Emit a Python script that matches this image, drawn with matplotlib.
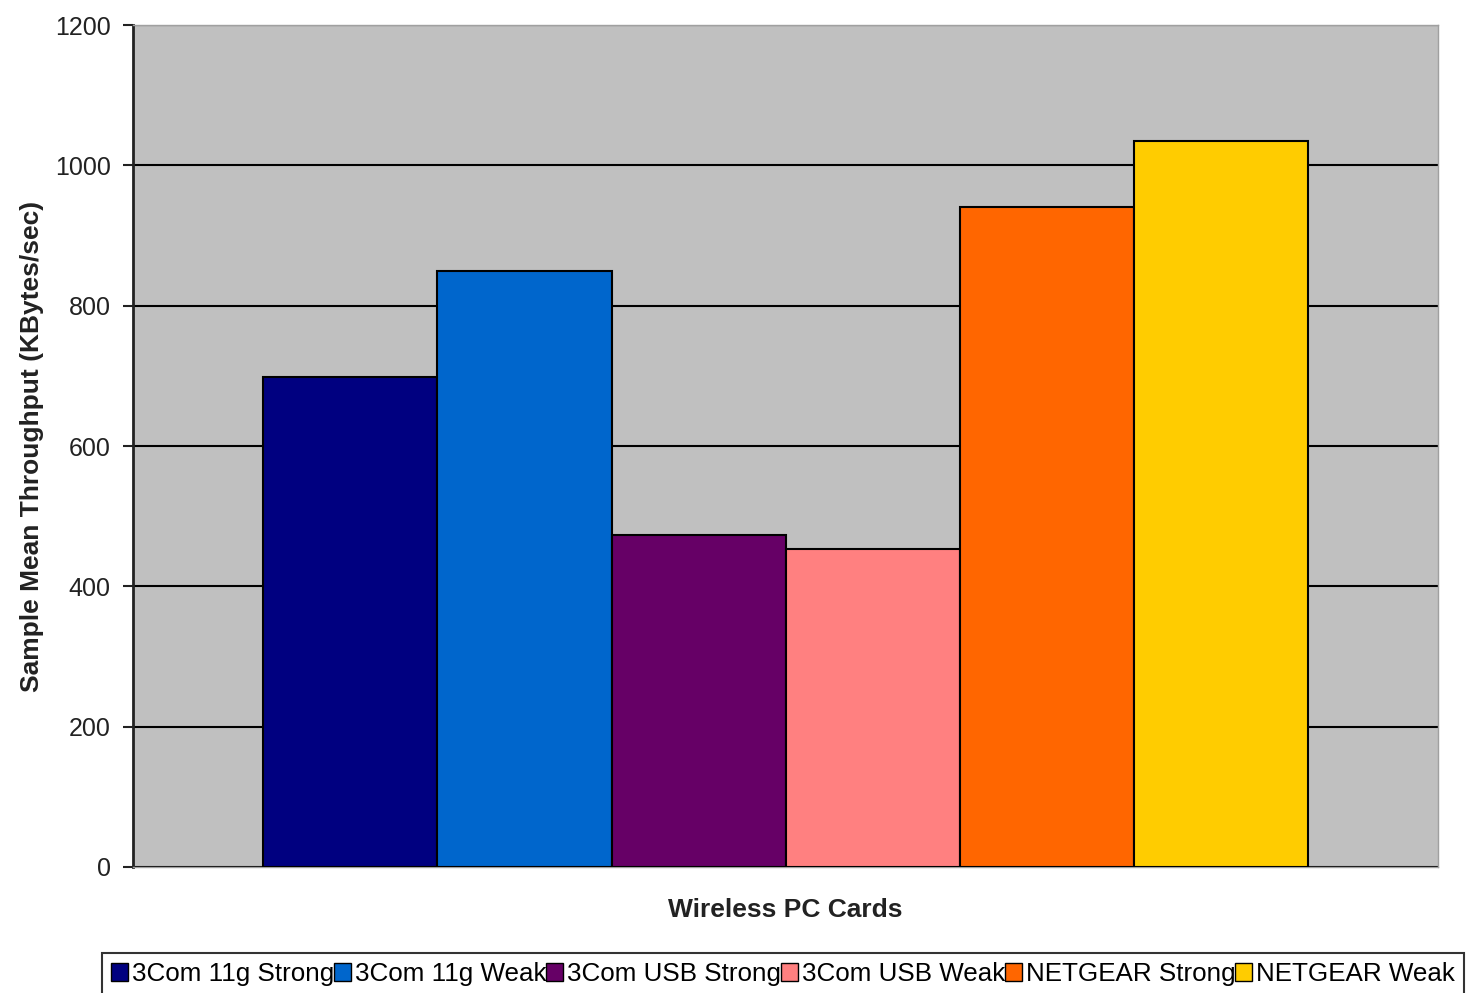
import numpy as np
import matplotlib.pyplot as plt

# data
cards = ['3Com 11g Strong', '3Com 11g Weak', '3Com USB Strong',
         '3Com USB Weak', 'NETGEAR Strong', 'NETGEAR Weak']
throughput = [698, 849, 473, 453, 940, 1035]
colors = ['#000080', '#0066CC', '#660066', '#FF8080', '#FF6600', '#FFCC00']

plt.rcParams['font.family'] = ['Liberation Sans', 'DejaVu Sans']

fig = plt.figure(figsize=(14.69, 9.93), dpi=100)
ax = fig.add_axes([0.0905, 0.1269, 0.8885, 0.8479])
ax.set_facecolor('#C0C0C0')

x = np.arange(len(cards))
for i in range(len(cards)):
    ax.bar(x[i], throughput[i], width=1.0, color=colors[i], edgecolor='black',
           linewidth=1.5, label=cards[i], zorder=3)

ax.set_xlim(-1.25, len(cards) + 0.25)
ax.set_ylim(0, 1200)
ax.set_yticks(np.arange(0, 1201, 200))
ax.set_xticks([])
ax.yaxis.grid(True, color='black', linewidth=1.5, zorder=0)
ax.set_axisbelow(True)
ax.tick_params(axis='y', direction='out', length=7, width=1.5, pad=9,
               labelsize=18, colors='#222222')

ax.spines['left'].set_color('#222222')
ax.spines['left'].set_linewidth(2)
for s in ['top', 'right', 'bottom']:
    ax.spines[s].set_color('#A0A0A0')
    ax.spines[s].set_linewidth(1)

ax.set_xlabel('Wireless PC Cards', fontsize=19, fontweight='bold', labelpad=22, color='#222222')
ax.set_ylabel('Sample Mean Throughput (KBytes/sec)', fontsize=19, fontweight='bold', labelpad=8, color='#222222')

leg = fig.legend(loc='upper center', bbox_to_anchor=(0.533, 0.0403), ncol=6,
                 fontsize=18.7, frameon=True, fancybox=False, edgecolor='black',
                 handlelength=0.65, handleheight=0.65, handletextpad=0.15,
                 columnspacing=0.0, borderpad=0.35, borderaxespad=0)
leg.get_frame().set_linewidth(1.5)
for h in leg.legend_handles:
    h.set_linewidth(1)

fig.savefig('out.png', dpi=100, facecolor='white')
